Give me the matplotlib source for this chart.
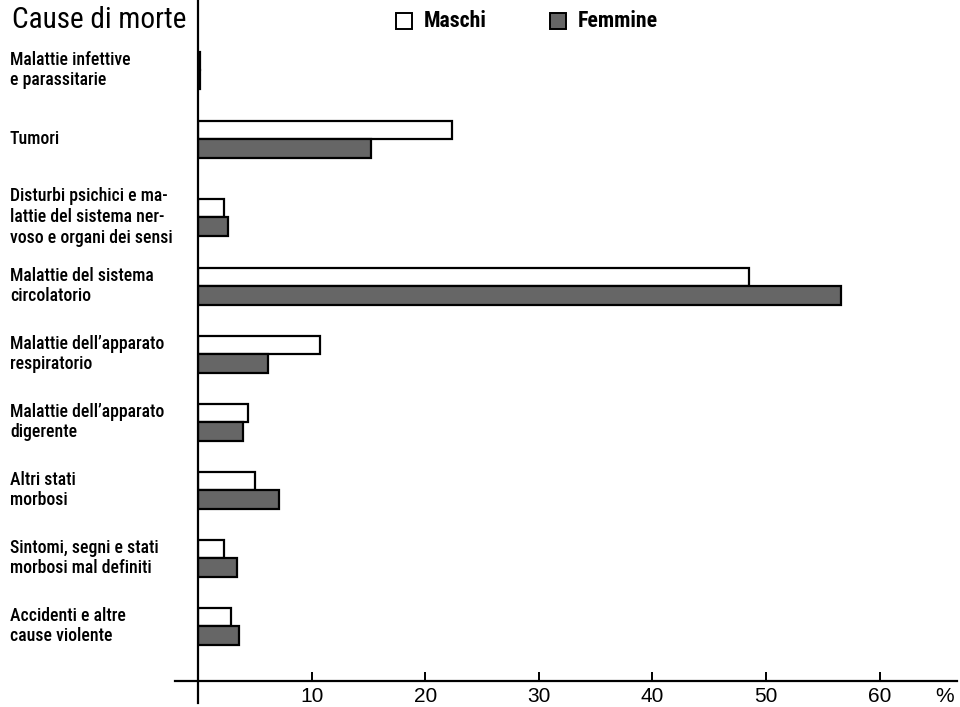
import matplotlib
matplotlib.use("Agg")
import matplotlib.pyplot as plt
from matplotlib import font_manager
from matplotlib.font_manager import FontProperties
from matplotlib.patches import Rectangle
from matplotlib.transforms import blended_transform_factory

# data (% of deaths)
cause = [
    "Malattie infettive\ne parassitarie",
    "Tumori",
    "Disturbi psichici e ma-\nlattie del sistema ner-\nvoso e organi dei sensi",
    "Malattie del sistema\ncircolatorio",
    "Malattie dell\u2019apparato\nrespiratorio",
    "Malattie dell\u2019apparato\ndigerente",
    "Altri stati\nmorbosi",
    "Sintomi, segni e stati\nmorbosi mal definiti",
    "Accidenti e altre\ncause violente",
]
maschi = [0.2, 22.4, 2.3, 48.5, 10.7, 4.4, 5.0, 2.3, 2.9]
femmine = [0.2, 15.2, 2.6, 56.6, 6.2, 4.0, 7.1, 3.4, 3.6]
xticks = [10, 20, 30, 40, 50, 60]

# layout: group centres in pixel rows (groups are not evenly spaced)
centres = [70, 139, 217, 286, 354, 422, 490, 558, 626]

WEIGHTS = {"thin": 100, "light": 300, "normal": 400, "regular": 400, "book": 400,
           "medium": 500, "semibold": 600, "demibold": 600, "bold": 700, "heavy": 800, "black": 900}


def find_narrow(wanted, fallback_weight="normal"):
    # look for a condensed sans face among the installed fonts
    prefs = ["Liberation Sans Narrow", "Roboto Condensed", "Roboto", "Open Sans Condensed",
             "Open Sans", "Noto Sans", "Liberation Sans"]
    best = None
    for f in font_manager.fontManager.ttflist:
        if f.style != "normal":
            continue
        fname = f.fname.lower()
        cond = ("narrow" in fname or "condensed" in fname or "narrow" in f.name.lower()
                or f.stretch in ("condensed", "semi-condensed"))
        if not cond or "extra" in fname or "ultra" in fname or "semicondensed" in fname:
            continue
        w = f.weight if isinstance(f.weight, int) else WEIGHTS.get(str(f.weight), 400)
        if w not in wanted:
            continue
        base = f.name.replace(" Condensed", "").replace(" Narrow", "")
        for i, p in enumerate(prefs):
            if f.name == p or base == p:
                key = (i, wanted.index(w))
                if best is None or key < best[0]:
                    best = (key, f.fname)
                break
    if best is None:
        return FontProperties(family="Liberation Sans", weight=fallback_weight)
    return FontProperties(fname=best[1])


fp_med = find_narrow([500, 400])
fp_reg = find_narrow([400])
fp_bold = find_narrow([700], "bold")

W, H = 960, 707
fig = plt.figure(figsize=(W / 100, H / 100), dpi=100)
fig.patch.set_facecolor("white")
renderer = fig.canvas.get_renderer()


def fit_size(s, target_px, fp):
    # pick a font size so that the string is about target_px wide
    p = fp.copy()
    p.set_size(12)
    t = fig.text(0, 0, s, fontproperties=p)
    w = t.get_window_extent(renderer).width
    t.remove()
    q = fp.copy()
    q.set_size(12 * target_px / w)
    return q


lab_fp = fit_size("Malattie infettive", 121, fp_med)
head_fp = fit_size("Cause di morte", 174, fp_reg)
leg_fp = fit_size("Maschi", 63, fp_bold)

x0_px, x1_px, axis_y = 198, 957, 681
px_per_unit = (880 - 312) / 50.0
ax = fig.add_axes([x0_px / W, (H - axis_y) / H, (x1_px - x0_px) / W, axis_y / H])
ax.set_xlim(0, (x1_px - x0_px) / px_per_unit)
ax.set_ylim(axis_y, 0)
for s in ax.spines.values():
    s.set_visible(False)

bh = 18.5
ax.barh([c - bh / 2 for c in centres], maschi, height=bh, color="white",
        edgecolor="black", linewidth=1.6)
ax.barh([c + bh / 2 for c in centres], femmine, height=bh, color="#666666",
        edgecolor="black", linewidth=1.6)

# axis lines
ax.plot([0, 0], [0, 703], color="black", lw=1.6, clip_on=False)
ax.plot([(175 - x0_px) / px_per_unit, (x1_px - x0_px) / px_per_unit], [axis_y, axis_y],
        color="black", lw=1.6, clip_on=False)

ax.set_yticks([])
ax.set_xticks(xticks)
ax.set_xticklabels([str(t) for t in xticks], fontsize=15, family="Liberation Sans")
ax.tick_params(axis="x", direction="in", length=6.8, width=1.4, pad=4)

# category labels
tr = blended_transform_factory(fig.transFigure, ax.transData)
for c, name in zip(centres, cause):
    ax.text(10 / W, c, name, transform=tr, ha="left", va="center",
            fontproperties=lab_fp, linespacing=1.2)

fig.text(12 / W, 1 - 20 / H, "Cause di morte", ha="left", va="center", fontproperties=head_fp)
fig.text(945 / W, 1 - 697 / H, "%", ha="center", va="center",
         fontsize=15, family="Liberation Sans")

# legend
fig.patches.append(Rectangle((396 / W, 1 - 29 / H), 16 / W, 16 / H, transform=fig.transFigure,
                             facecolor="white", edgecolor="black", lw=1.4))
fig.text(424 / W, 1 - 21 / H, "Maschi", ha="left", va="center", fontproperties=leg_fp)
fig.patches.append(Rectangle((550 / W, 1 - 29 / H), 16 / W, 16 / H, transform=fig.transFigure,
                             facecolor="#666666", edgecolor="black", lw=1.4))
fig.text(578 / W, 1 - 21 / H, "Femmine", ha="left", va="center", fontproperties=leg_fp)

fig.savefig("out.png", dpi=100)
